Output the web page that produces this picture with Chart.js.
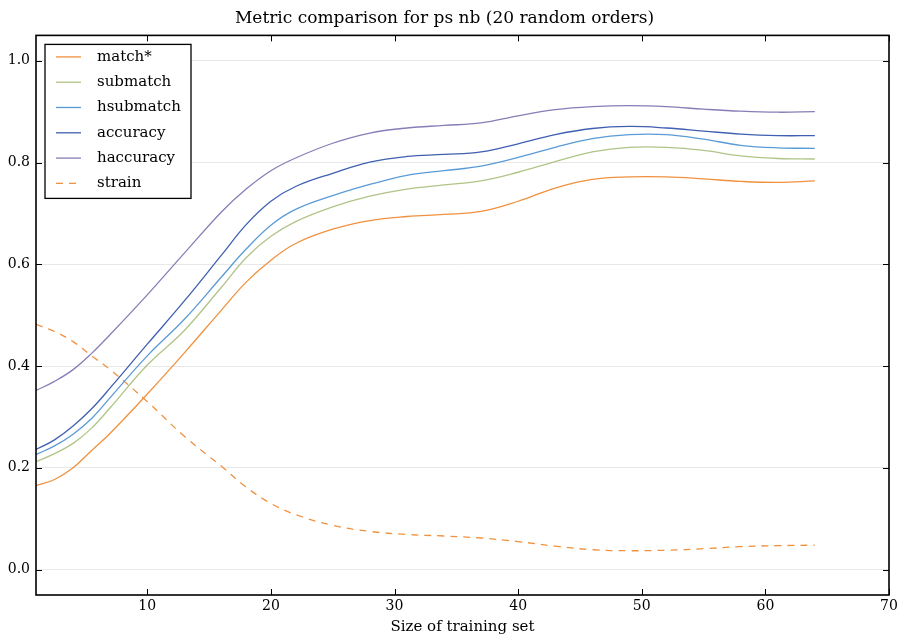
<!DOCTYPE html>
<html>
<head>
<meta charset="utf-8">
<script src="https://cdn.jsdelivr.net/npm/chart.js@4.4.1/dist/chart.umd.min.js"></script>
<style>
html,body{margin:0;padding:0;background:#fff;}
#wrap{width:906px;height:644px;}
</style>
</head>
<body>
<div id="wrap"><canvas id="c" width="906" height="644"></canvas></div>
<script>
const trainSizes = [1, 2.5, 4, 5.5, 7, 10, 13, 16, 18, 20, 22, 25, 28, 31, 34, 37, 40, 43, 46, 49, 52, 55, 58, 61, 64];
const matchStar  = [0.165, 0.177, 0.200, 0.234, 0.268, 0.345, 0.426, 0.510, 0.565, 0.608, 0.641, 0.669, 0.686, 0.694, 0.698, 0.704, 0.724, 0.750, 0.767, 0.772, 0.772, 0.768, 0.763, 0.761, 0.764];
const submatch   = [0.212, 0.228, 0.248, 0.278, 0.318, 0.402, 0.470, 0.555, 0.613, 0.655, 0.684, 0.713, 0.734, 0.748, 0.756, 0.764, 0.781, 0.802, 0.821, 0.830, 0.830, 0.824, 0.813, 0.808, 0.807];
const hsubmatch  = [0.226, 0.243, 0.266, 0.297, 0.338, 0.420, 0.492, 0.575, 0.630, 0.677, 0.708, 0.735, 0.757, 0.775, 0.784, 0.793, 0.810, 0.830, 0.847, 0.855, 0.855, 0.846, 0.834, 0.829, 0.828];
const accuracy   = [0.236, 0.255, 0.282, 0.316, 0.357, 0.443, 0.528, 0.618, 0.678, 0.724, 0.753, 0.779, 0.801, 0.812, 0.816, 0.821, 0.837, 0.855, 0.867, 0.871, 0.868, 0.862, 0.856, 0.853, 0.853];
const haccuracy  = [0.352, 0.370, 0.393, 0.425, 0.462, 0.540, 0.622, 0.703, 0.748, 0.784, 0.809, 0.838, 0.858, 0.868, 0.873, 0.878, 0.892, 0.904, 0.910, 0.912, 0.910, 0.905, 0.901, 0.899, 0.900];
const strain     = [0.482, 0.468, 0.448, 0.420, 0.393, 0.330, 0.262, 0.203, 0.162, 0.130, 0.108, 0.087, 0.075, 0.069, 0.066, 0.062, 0.055, 0.046, 0.039, 0.037, 0.038, 0.041, 0.045, 0.047, 0.048];
const seriesNames = ["match*", "submatch", "hsubmatch", "accuracy", "haccuracy", "strain"];
const xTicks = [10, 20, 30, 40, 50, 60, 70];
const yTicks = [0.0, 0.2, 0.4, 0.6, 0.8, 1.0];

const FONT = "'DejaVu Serif', serif";
const colors = ["#f0913f", "#b0c488", "#5b9bd5", "#3f5fb0", "#8a7cb6", "#f0913f"];
const seriesValues = [matchStar, submatch, hsubmatch, accuracy, haccuracy, strain];

const datasets = seriesValues.map((vals, i) => ({
  label: seriesNames[i],
  data: trainSizes.map((x, j) => ({x: x, y: vals[j]})),
  borderColor: colors[i],
  backgroundColor: colors[i],
  borderWidth: 1.3,
  borderDash: i === 5 ? [7, 6] : [],
  pointRadius: 0,
  fill: false,
  tension: 0.4
}));

const framePlugin = {
  id: 'frame',
  afterDraw(chart) {
    const ctx = chart.ctx;
    const a = chart.chartArea;
    const xs = chart.scales.x, ys = chart.scales.y;
    ctx.save();
    ctx.strokeStyle = '#000';
    ctx.lineWidth = 1;
    const tl = 6;
    ctx.beginPath();
    xTicks.forEach(v => {
      const px = Math.round(xs.getPixelForValue(v)) + 0.5;
      ctx.moveTo(px, a.bottom); ctx.lineTo(px, a.bottom - tl);
      ctx.moveTo(px, a.top); ctx.lineTo(px, a.top + tl);
    });
    yTicks.forEach(v => {
      const py = Math.round(ys.getPixelForValue(v)) + 0.5;
      ctx.moveTo(a.left, py); ctx.lineTo(a.left + tl, py);
      ctx.moveTo(a.right, py); ctx.lineTo(a.right - tl, py);
    });
    ctx.stroke();
    ctx.lineWidth = 1.6;
    ctx.strokeRect(a.left, a.top, a.right - a.left, a.bottom - a.top);

    // legend
    const lx = a.left + 9, ly = a.top + 9, lw = 146, lh = 154;
    ctx.fillStyle = '#fff';
    ctx.fillRect(lx, ly, lw, lh);
    ctx.lineWidth = 1.3;
    ctx.strokeStyle = '#000';
    ctx.strokeRect(lx, ly, lw, lh);
    ctx.font = "15px " + FONT;
    ctx.textBaseline = 'middle';
    ctx.textAlign = 'left';
    chart.data.datasets.forEach((ds, i) => {
      const cy = ly + 12.5 + i * 25.3;
      ctx.strokeStyle = ds.borderColor;
      ctx.lineWidth = 1.3;
      ctx.setLineDash(ds.borderDash && ds.borderDash.length ? [7, 6] : []);
      ctx.beginPath();
      ctx.moveTo(lx + 11, cy); ctx.lineTo(lx + 36, cy);
      ctx.stroke();
      ctx.setLineDash([]);
      ctx.fillStyle = '#000';
      ctx.fillText(ds.label, lx + 52, cy);
    });
    ctx.restore();
  }
};

new Chart(document.getElementById('c'), {
  type: 'line',
  data: { datasets: datasets },
  options: {
    responsive: false,
    animation: false,
    layout: { padding: { left: 0, right: 17, top: 0, bottom: 0 } },
    plugins: {
      legend: { display: false },
      tooltip: { enabled: false },
      title: {
        display: true,
        text: 'Metric comparison for ps nb (20 random orders)',
        color: '#000',
        font: { family: FONT, size: 17, weight: 'normal' },
        padding: { top: 8, bottom: 7 }
      }
    },
    scales: {
      x: {
        type: 'linear',
        min: 1, max: 70,
        afterBuildTicks(s) { s.ticks = xTicks.map(v => ({value: v})); },
        afterFit(s) { s.height = 49; },
        grid: { display: false, drawTicks: false },
        border: { display: false },
        ticks: { color: '#000', font: { family: FONT, size: 14 }, padding: 3, maxRotation: 0 },
        title: { display: true, text: 'Size of training set', color: '#000',
                 font: { family: FONT, size: 15 }, padding: { top: 0, bottom: 8 } }
      },
      y: {
        type: 'linear',
        min: -0.05, max: 1.05,
        afterBuildTicks(s) { s.ticks = yTicks.map(v => ({value: v})); },
        afterFit(s) { s.width = 36; },
        grid: { color: '#e8e8e8', lineWidth: 1, drawTicks: false },
        border: { display: false },
        ticks: { color: '#000', font: { family: FONT, size: 14 }, padding: 6,
                 callback: v => Number(v).toFixed(1) }
      }
    }
  },
  plugins: [framePlugin]
});
</script>
</body>
</html>
